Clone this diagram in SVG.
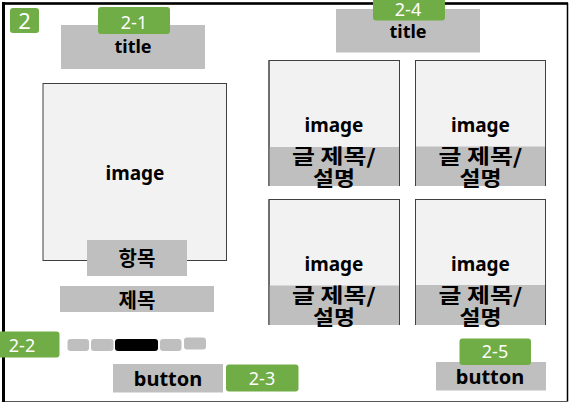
<svg xmlns="http://www.w3.org/2000/svg" width="570" height="403" viewBox="0 0 570 403">
  <style>
    .frame { fill: none; stroke: #000; }
    .img { fill: #f2f2f2; stroke: #404040; stroke-width: 1; }
    .bar { fill: #bfbfbf; }
    .badge { fill: #70ad47; }
    .lbl { font-family: "Noto Sans", "Noto Sans CJK KR", sans-serif; font-weight: bold; fill: #000; text-anchor: middle; }
    .ko { font-family: "Noto Sans CJK KR", sans-serif; font-weight: bold; font-size: 20px; fill: #000; text-anchor: middle; }
    .tag { font-family: "Noto Sans", sans-serif; font-size: 18px; fill: #fff; text-anchor: middle; }
    .dot { fill: #bfbfbf; }
  </style>

  <rect width="570" height="403" fill="#fff"/>

  <!-- page frame -->
  <g id="frame">
    <path class="frame" d="M3.5 401.5 V3.5 H567.5 V401.5" stroke-width="1.5"/>
    <line x1="3.5" y1="401.5" x2="567.5" y2="401.5" stroke="#555" stroke-width="1.2"/>
    <line x1="3.5" y1="2" x2="3.5" y2="402" stroke="#000" stroke-width="3"/>
    <line x1="2" y1="3.5" x2="568" y2="3.5" stroke="#000" stroke-width="2.5"/>
  </g>

  <!-- section number -->
  <g id="badge-2">
    <rect class="badge" x="10" y="8" width="29" height="25" rx="3"/>
    <text class="tag" x="24.5" y="29" style="font-size:22px">2</text>
  </g>

  <!-- left column: title -->
  <g id="title-left">
    <rect class="bar" x="61" y="25" width="144" height="44"/>
    <text class="lbl" x="133" y="53" font-size="18">title</text>
  </g>
  <g id="badge-2-1">
    <rect class="badge" x="98" y="7" width="72" height="27" rx="3"/>
    <text class="tag" x="134" y="28.5">2-1</text>
  </g>

  <!-- left column: main image -->
  <g id="main-image">
    <rect class="img" x="43" y="83.5" width="183.5" height="177"/>
    <text class="lbl" x="135" y="180" font-size="19">image</text>
  </g>
  <g id="item-label">
    <rect class="bar" x="87" y="240" width="100" height="36"/>
    <text class="ko" x="137" y="266">항목</text>
  </g>
  <g id="subject-label">
    <rect class="bar" x="60" y="286" width="154" height="26"/>
    <text class="ko" x="137" y="308">제목</text>
  </g>

  <!-- pager -->
  <g id="pager">
    <rect class="dot" x="67.5" y="339" width="21.5" height="12" rx="3"/>
    <rect class="dot" x="91" y="339" width="22.5" height="12" rx="3"/>
    <rect x="115" y="339" width="43" height="12" rx="3" fill="#000"/>
    <rect class="dot" x="160" y="339" width="21.5" height="12" rx="3"/>
    <rect class="dot" x="184" y="337.5" width="22" height="12" rx="3"/>
  </g>
  <g id="badge-2-2">
    <rect class="badge" x="-15" y="331.5" width="74.5" height="26" rx="3"/>
    <text class="tag" x="22" y="351.5">2-2</text>
  </g>

  <!-- left button -->
  <g id="button-left">
    <rect class="bar" x="113" y="364" width="110" height="28.5"/>
    <text class="lbl" x="168" y="386" font-size="20">button</text>
  </g>
  <g id="badge-2-3">
    <rect class="badge" x="226" y="364.5" width="72.5" height="27" rx="3"/>
    <text class="tag" x="262" y="384.5">2-3</text>
  </g>

  <!-- right column: title -->
  <g id="title-right">
    <rect class="bar" x="336" y="9" width="144" height="43.5"/>
    <text class="lbl" x="408" y="37.5" font-size="18">title</text>
  </g>
  <g id="badge-2-4">
    <rect class="badge" x="373" y="-6" width="72" height="26.5" rx="3"/>
    <text class="tag" x="408" y="16">2-4</text>
  </g>

  <!-- right column: card grid -->
  <g id="card-1">
    <rect class="img" x="269" y="60.5" width="130.5" height="125"/>
    <rect class="bar" x="269" y="147" width="130.5" height="39"/>
    <line x1="269" y1="60.5" x2="269" y2="186" stroke="#404040"/>
    <line x1="399.5" y1="60.5" x2="399.5" y2="186" stroke="#404040"/>
    <text class="lbl" x="334" y="131.5" font-size="19">image</text>
    <text class="ko" x="334" y="164" textLength="84" lengthAdjust="spacingAndGlyphs">글 제목/</text>
    <text class="ko" x="334" y="186" textLength="42" lengthAdjust="spacingAndGlyphs">설명</text>
  </g>
  <g id="card-2">
    <rect class="img" x="415.5" y="60.5" width="130" height="125"/>
    <rect class="bar" x="415.5" y="146.5" width="130" height="39.5"/>
    <line x1="415.5" y1="60.5" x2="415.5" y2="186" stroke="#404040"/>
    <line x1="545.5" y1="60.5" x2="545.5" y2="186" stroke="#404040"/>
    <text class="lbl" x="480.5" y="131.5" font-size="19">image</text>
    <text class="ko" x="480.5" y="164" textLength="84" lengthAdjust="spacingAndGlyphs">글 제목/</text>
    <text class="ko" x="480.5" y="186" textLength="42" lengthAdjust="spacingAndGlyphs">설명</text>
  </g>
  <g id="card-3">
    <rect class="img" x="269" y="199.5" width="130.5" height="125"/>
    <rect class="bar" x="269" y="285.5" width="130.5" height="39.5"/>
    <line x1="269" y1="199.5" x2="269" y2="325" stroke="#404040"/>
    <line x1="399.5" y1="199.5" x2="399.5" y2="325" stroke="#404040"/>
    <text class="lbl" x="334" y="270.5" font-size="19">image</text>
    <text class="ko" x="334" y="303" textLength="84" lengthAdjust="spacingAndGlyphs">글 제목/</text>
    <text class="ko" x="334" y="325" textLength="42" lengthAdjust="spacingAndGlyphs">설명</text>
  </g>
  <g id="card-4">
    <rect class="img" x="415.5" y="199.5" width="130" height="125"/>
    <rect class="bar" x="415.5" y="285" width="130" height="40"/>
    <line x1="415.5" y1="199.5" x2="415.5" y2="325" stroke="#404040"/>
    <line x1="545.5" y1="199.5" x2="545.5" y2="325" stroke="#404040"/>
    <text class="lbl" x="480.5" y="270.5" font-size="19">image</text>
    <text class="ko" x="480.5" y="303" textLength="84" lengthAdjust="spacingAndGlyphs">글 제목/</text>
    <text class="ko" x="480.5" y="325" textLength="42" lengthAdjust="spacingAndGlyphs">설명</text>
  </g>

  <!-- right button -->
  <g id="button-right">
    <rect class="bar" x="436" y="362" width="110" height="28.5"/>
    <text class="lbl" x="490" y="384" font-size="20">button</text>
  </g>
  <g id="badge-2-5">
    <rect class="badge" x="459.5" y="338.5" width="71.5" height="26.5" rx="3"/>
    <text class="tag" x="495" y="357.5">2-5</text>
  </g>

  <!-- no connectors in this layout -->
  <g id="connectors"/>
</svg>
